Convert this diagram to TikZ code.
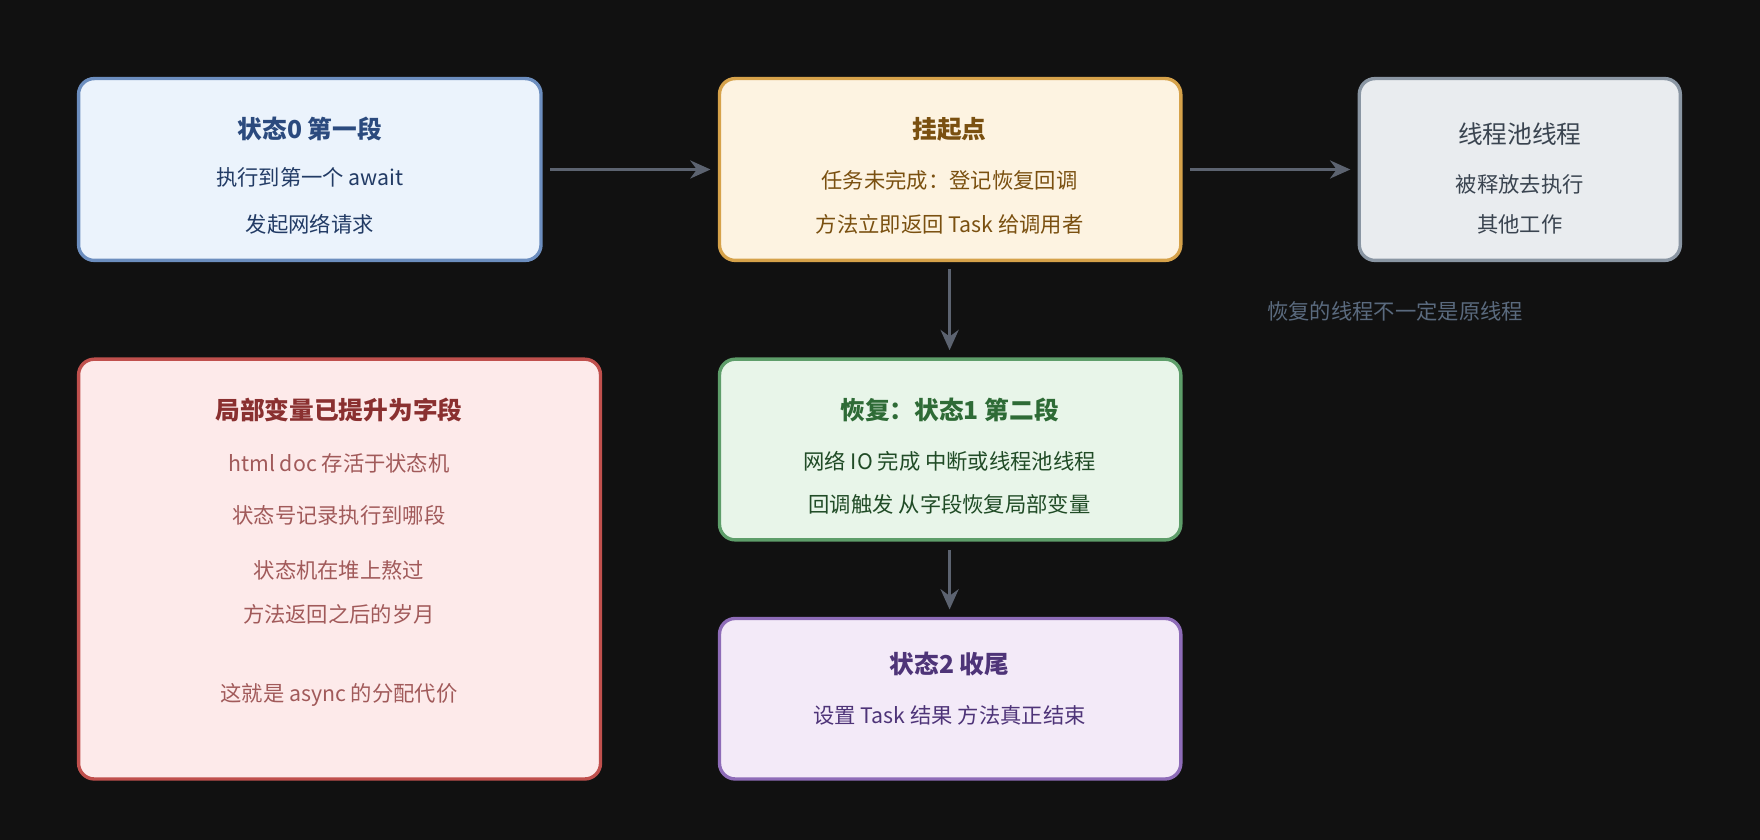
\documentclass[tikz,border=0pt]{standalone}
\usepackage{fontspec}
\setmainfont{Noto Sans CJK SC}
\usetikzlibrary{arrows.meta}
\definecolor{bg}{HTML}{111111}
\definecolor{arr}{HTML}{5C6370}
\definecolor{bA}{HTML}{6C8EBF}\definecolor{fA}{HTML}{EBF3FC}\definecolor{tA}{HTML}{2B4A7E}
\definecolor{bB}{HTML}{D6A24A}\definecolor{fB}{HTML}{FDF3E1}\definecolor{tB}{HTML}{7A5010}
\definecolor{bC}{HTML}{8A96A3}\definecolor{fC}{HTML}{E9ECEF}\definecolor{tC}{HTML}{3A4450}
\definecolor{bD}{HTML}{C0504D}\definecolor{fD}{HTML}{FDEAEA}\definecolor{tD}{HTML}{8A3030}
\definecolor{bE}{HTML}{5E9E6A}\definecolor{fE}{HTML}{E8F5E9}\definecolor{tE}{HTML}{2E6B36}
\definecolor{bF}{HTML}{8E6CB8}\definecolor{fF}{HTML}{F3EAF8}\definecolor{tF}{HTML}{4E3478}
\definecolor{note}{HTML}{5A6A7E}
\tikzset{
 box/.style={draw, line width=1.5pt, rounded corners=7pt},
 t/.style={font=\fontsize{11}{13}\selectfont\bfseries},
 b/.style={font=\fontsize{9.5}{11}\selectfont},
 conn/.style={draw=arr, line width=1.5pt, -{Stealth[length=9pt,width=8pt]}}
}
\begin{document}
\begin{tikzpicture}[x=0.5pt,y=-0.5pt]
\fill[bg] (0,0) rectangle (1568,748);
\useasboundingbox (0,0) rectangle (1568,748);
\draw[box, draw=bA, fill=fA] (70,70) rectangle (482,232);
\node[t, text=tA] (A1) at (276,115) {状态0 第一段};
\node[b, text=tA!80!black] (A2) at (276,158) {执行到第一个 await};
\node[b, text=tA!80!black] (A3) at (276,200) {发起网络请求};
\coordinate (Ar) at (490,151);
\draw[box, draw=bB, fill=fB] (641,70) rectangle (1052,232);
\node[t, text=tB] (B1) at (846,115) {挂起点};
\node[b, text=tB] (B2) at (846,161) {任务未完成：登记恢复回调};
\node[b, text=tB] (B3) at (846,200) {方法立即返回 Task 给调用者};
\coordinate (Bl) at (633,151); \coordinate (Br) at (1060,151); \coordinate (Bb) at (846,240);
\draw[box, draw=bC, fill=fC] (1211,70) rectangle (1497,232);
\node[font=\fontsize{11}{13}\selectfont, text=tC] (C1) at (1354,119) {线程池线程};
\node[b, text=tC] (C2) at (1354,164) {被释放去执行};
\node[b, text=tC] (C3) at (1354,200) {其他工作};
\coordinate (Cl) at (1203,151);
\node[b, text=note] (N) at (1243,277) {恢复的线程不一定是原线程};
\draw[box, draw=bD, fill=fD] (70,320) rectangle (535,694);
\node[t, text=tD] (D1) at (302,365) {局部变量已提升为字段};
\node[b, text=tD!80] (D2) at (302,413) {html doc 存活于状态机};
\node[b, text=tD!80] (D3) at (302,459) {状态号记录执行到哪段};
\node[b, text=tD!80] (D4) at (302,508) {状态机在堆上熬过};
\node[b, text=tD!80] (D5) at (302,547) {方法返回之后的岁月};
\node[b, text=tD!80] (D6) at (302,619) {这就是 async 的分配代价};
\draw[box, draw=bE, fill=fE] (641,320) rectangle (1052,481);
\node[t, text=tE] (E1) at (846,365) {恢复：状态1 第二段};
\node[b, text=tE!70!black] (E2) at (846,411) {网络 IO 完成 中断或线程池线程};
\node[b, text=tE!70!black] (E3) at (846,449) {回调触发 从字段恢复局部变量};
\coordinate (Et) at (846,312); \coordinate (Eb) at (846,490);
\draw[box, draw=bF, fill=fF] (641,551) rectangle (1052,694);
\node[t, text=tF] (F1) at (846,592) {状态2 收尾};
\node[b, text=tF] (F2) at (846,637) {设置 Task 结果 方法真正结束};
\coordinate (Ft) at (846,543);
\draw[conn] (Ar) -- (Bl);
\draw[conn] (Br) -- (Cl);
\draw[conn] (Bb) -- (Et);
\draw[conn] (Eb) -- (Ft);
\end{tikzpicture}
\end{document}
